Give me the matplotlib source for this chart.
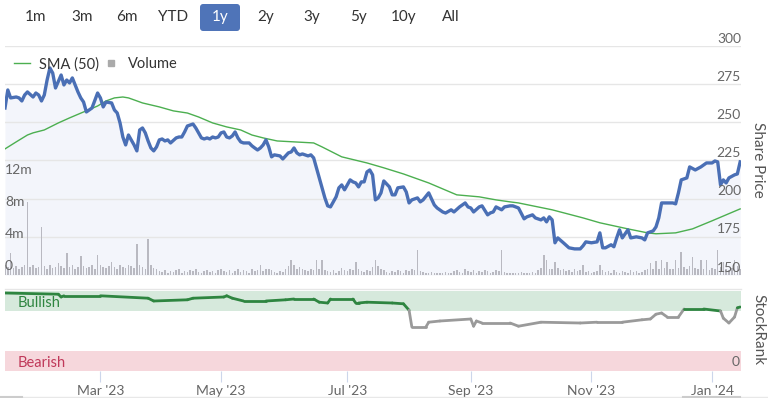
import pandas as pd
import matplotlib
matplotlib.use('Agg')
import matplotlib.pyplot as plt
from matplotlib.lines import Line2D
from matplotlib.patches import FancyBboxPatch

plt.rcParams['font.family'] = ['Lato', 'DejaVu Sans']

# trading sessions shown on the 1y view
sessions = pd.bdate_range('2023-01-12', periods=263)

# share price, read at session numbers
price_day = [0, 1, 2, 4, 5, 6, 7, 8, 10, 11, 12, 13, 14, 15, 16, 17, 18, 20, 21, 22,
             23, 24, 26, 27, 28, 29, 31, 33, 34, 35, 36, 38, 39, 40, 41, 42, 43, 44, 45, 46,
             47, 48, 49, 50, 51, 52, 53, 54, 55, 56, 57, 58, 59, 61, 62, 63, 64, 65, 67, 68,
             69, 70, 71, 72, 73, 74, 75, 76, 77, 78, 79, 80, 81, 82, 83, 84, 85, 87, 88, 89,
             90, 91, 92, 93, 94, 95, 96, 98, 99, 101, 102, 103, 104, 105, 106, 108, 109, 110, 111, 112,
             113, 114, 115, 116, 117, 118, 119, 120, 121, 122, 123, 124, 125, 126, 127, 128, 129, 130, 131, 132,
             133, 134, 135, 136, 137, 138, 139, 140, 142, 143, 144, 145, 147, 148, 149, 151, 152, 153, 154, 156,
             157, 159, 160, 162, 164, 165, 166, 167, 169, 170, 172, 173, 174, 175, 177, 178, 180, 181, 183, 185,
             186, 188, 189, 191, 192, 193, 194, 195, 196, 197, 199, 201, 203, 205, 206, 207, 209, 211, 212, 213,
             214, 216, 217, 218, 219, 220, 222, 223, 225, 227, 228, 229, 231, 232, 233, 234, 236, 238, 239, 240,
             241, 243, 244, 246, 248, 250, 252, 253, 254, 255, 256, 257, 258, 260, 261, 262]
price = [259.4, 271.2, 266.0, 266.6, 266.0, 264.0, 267.9, 269.9, 266.6, 269.2, 267.9, 264.0, 267.9, 277.7, 285.6, 282.3, 272.5, 281.0, 274.5, 277.7,
         275.8, 279.1, 269.9, 266.0, 263.3, 256.8, 259.4, 269.2, 266.0, 260.1, 263.3, 262.7, 258.1, 256.1, 249.6, 240.4, 235.2, 241.7, 238.5, 235.2,
         231.3, 245.0, 246.3, 243.1, 237.8, 233.2, 231.3, 233.9, 238.5, 239.1, 237.8, 238.5, 236.5, 239.8, 240.4, 240.4, 243.7, 247.6, 248.9, 246.3,
         243.1, 239.8, 239.1, 239.8, 239.1, 240.4, 239.8, 240.4, 243.1, 243.7, 240.4, 239.8, 241.1, 243.7, 239.8, 237.2, 236.5, 236.5, 234.6, 233.2,
         231.9, 233.2, 235.2, 238.5, 233.9, 227.4, 228.7, 228.0, 226.0, 230.0, 230.6, 233.2, 230.0, 228.7, 229.3, 228.0, 228.7, 226.7, 220.2, 213.6,
         207.1, 200.5, 195.3, 194.6, 197.9, 201.2, 207.1, 209.0, 205.8, 209.0, 212.3, 211.0, 210.3, 207.7, 211.0, 211.0, 217.5, 218.8, 215.6, 199.2,
         200.5, 203.8, 211.6, 209.7, 207.7, 202.5, 202.5, 207.1, 207.7, 204.4, 197.2, 199.2, 200.5, 197.9, 199.2, 203.8, 199.8, 195.9, 193.9, 191.3,
         190.6, 192.7, 191.3, 194.6, 197.2, 194.6, 193.9, 191.3, 194.6, 195.3, 189.4, 190.7, 191.3, 194.6, 192.7, 194.6, 195.3, 195.3, 193.9, 186.8,
         188.1, 189.4, 187.4, 186.1, 187.4, 184.8, 188.1, 186.1, 171.1, 174.3, 171.1, 167.8, 167.1, 167.1, 169.1, 171.7, 171.1, 171.7, 177.6, 167.8,
         167.8, 169.8, 168.5, 174.3, 179.6, 174.3, 179.6, 174.3, 175.0, 174.3, 173.0, 177.6, 178.9, 181.5, 187.4, 197.2, 197.2, 197.2, 196.6, 203.8,
         212.3, 213.6, 220.8, 218.8, 220.8, 223.4, 223.4, 224.7, 224.1, 209.0, 212.3, 210.3, 213.6, 215.6, 216.2, 224.1]

# 50 day moving average
sma_day = [0, 4, 8, 10, 14, 19, 23, 28, 33, 36, 39, 42, 44, 46, 49, 55, 60, 65, 69, 74,
           79, 84, 88, 92, 97, 103, 110, 113, 120, 129, 135, 142, 151, 161, 169, 175, 180, 183, 195, 206,
           212, 222, 229, 232, 239, 245, 252, 257, 262]
sma = [232.6, 237.2, 241.7, 243.1, 245.0, 249.6, 252.9, 256.8, 260.7, 264.0, 266.0, 266.6, 266.0, 264.7, 262.7, 260.1, 257.5, 256.1, 253.5, 249.6,
       247.0, 245.0, 241.7, 239.8, 237.8, 237.2, 236.5, 233.9, 227.4, 223.4, 220.2, 216.2, 210.3, 202.5, 201.2, 199.2, 197.9, 197.2, 192.7, 187.4,
       184.2, 180.2, 177.6, 177.0, 177.6, 180.2, 185.5, 189.4, 193.3]

# daily volume in millions, one value per session
volume = [1.2, 1.0, 2.7, 0.9, 1.1, 0.8, 1.0, 1.3, 9.1, 1.0,
          1.2, 0.9, 1.0, 6.0, 1.1, 0.8, 1.2, 0.9, 1.0, 1.5,
          1.1, 0.9, 2.7, 1.0, 1.2, 0.8, 1.0, 2.4, 1.1, 0.9,
          1.0, 1.3, 0.8, 2.5, 1.2, 1.0, 0.9, 1.1, 1.6, 1.0,
          0.8, 1.2, 1.0, 0.9, 1.3, 1.1, 0.9, 3.9, 1.2, 1.0,
          0.8, 4.5, 1.3, 0.9, 0.7, 0.5, 0.4, 0.6, 0.3, 0.5,
          0.4, 0.6, 0.8, 0.3, 0.5, 0.4, 0.6, 0.5, 0.7, 0.4,
          0.3, 0.5, 0.6, 0.4, 0.5, 0.3, 0.6, 0.7, 0.5, 0.4,
          0.6, 0.3, 0.5, 0.8, 0.4, 0.6, 0.5, 0.3, 0.7, 0.5,
          0.6, 1.2, 0.5, 0.8, 0.7, 0.6, 0.4, 0.3, 0.5, 0.4,
          0.7, 1.1, 1.9, 1.2, 0.8, 1.0, 0.7, 0.6, 0.5, 0.8,
          0.6, 1.9, 0.7, 1.9, 0.6, 0.5, 0.4, 0.6, 0.3, 0.5,
          0.9, 0.6, 0.5, 0.8, 0.6, 1.6, 0.7, 0.5, 0.4, 0.6,
          0.5, 1.0, 1.9, 1.1, 0.8, 0.6, 0.4, 0.3, 0.5, 0.4,
          0.6, 0.5, 0.3, 0.6, 0.5, 0.7, 0.6, 3.1, 0.5, 0.4,
          0.3, 0.2, 0.4, 0.3, 0.2, 0.3, 0.2, 0.4, 0.3, 0.2,
          0.5, 0.6, 0.4, 0.3, 0.7, 0.5, 0.4, 0.6, 0.3, 0.5,
          0.4, 0.6, 0.5, 0.3, 0.4, 0.6, 0.5, 3.1, 0.4, 0.3,
          0.2, 0.3, 0.2, 0.3, 0.4, 0.2, 0.3, 0.2, 0.4, 0.3,
          0.6, 0.9, 2.5, 1.9, 0.7, 0.8, 1.6, 0.9, 0.6, 0.8,
          0.5, 0.6, 0.4, 0.7, 0.5, 0.6, 1.2, 0.4, 0.5, 0.3,
          0.4, 0.5, 1.2, 0.6, 0.4, 0.5, 0.3, 0.6, 0.4, 0.3,
          0.5, 0.4, 0.3, 0.6, 0.4, 0.5, 0.3, 0.4, 0.6, 0.8,
          1.5, 0.7, 1.7, 0.8, 1.9, 0.9, 1.6, 0.8, 0.7, 1.9,
          0.9, 2.9, 1.0, 0.8, 1.1, 2.2, 0.9, 0.7, 1.9, 0.8,
          1.9, 0.6, 0.9, 0.7, 3.1, 1.0, 1.6, 0.8, 0.6, 0.9,
          1.9, 1.1, 0.8]

# StockRank (0-100)
rank_day = [0, 19, 20, 21, 34, 51, 53, 65, 67, 78, 79, 81, 85, 93, 100, 103, 110, 112, 115, 116,
            124, 125, 126, 129, 138, 142, 144, 145, 150, 151, 155, 166, 167, 168, 170, 180, 183, 191, 205, 211,
            220, 227, 230, 232, 234, 236, 240, 242, 249, 255, 256, 258, 260, 261, 262]
rank = [97.5, 96, 92.5, 94, 94, 91, 87.5, 89, 91, 92.5, 94, 91, 87.5, 87.5, 89, 90, 90, 86, 85, 90,
        90, 85, 85, 86, 85, 84, 76, 55, 55, 61, 62.5, 65, 56, 62.5, 60, 60, 56, 61, 60, 61,
        61, 64, 65, 71, 72.5, 67.5, 67.5, 77.5, 77.5, 75, 66, 60, 67.5, 79, 80]

buttons = ['1m', '3m', '6m', 'YTD', '1y', '2y', '3y', '5y', '10y', 'All']
month_ticks = ['2023-03-01', '2023-05-01', '2023-07-01', '2023-09-01', '2023-11-01', '2024-01-01']

W, H = 768, 398
GRID = '#e6e6e6'
LABEL = '#666666'


def fx(px):
    return px / W


def fy(py):
    return 1 - py / H


fig = plt.figure(figsize=(W / 100, H / 100), dpi=100)
xmax = len(sessions) - 0.7

# --- price panel: fill + grid, volume, lines on three stacked axes
rect = [fx(5), fy(275), fx(736), 229 / H]
ax = fig.add_axes(rect)
ax.set_xlim(0, xmax)
ax.set_ylim(150, 300)
ax.fill_between(price_day, price, 150, color='#f3f5fb', lw=0)
for v in range(150, 301, 25):
    ax.axhline(v, color=GRID, lw=1)
ax.axis('off')

axv = fig.add_axes(rect, sharex=ax)
axv.patch.set_visible(False)
axv.set_ylim(0, 229 / 8)
axv.bar(range(len(volume)), volume, width=0.55, color='#b9b9c1', lw=0)
for v in [0, 4, 8, 12]:
    axv.annotate(f'{v}m' if v else '0', (0, v), xytext=(0, 2), textcoords='offset points',
                 ha='left', va='bottom', color=LABEL, fontsize=10)
axv.axis('off')

axp = fig.add_axes(rect, sharex=ax, sharey=ax)
axp.patch.set_visible(False)
axp.plot(sma_day, sma, color='#4caf50', lw=1)
axp.plot(price_day, price, color='#4a6fb5', lw=2.4, solid_joinstyle='round')
for v in range(150, 301, 25):
    axp.annotate(str(v), (xmax, v), xytext=(0, 1), textcoords='offset points',
                 ha='right', va='bottom', color=LABEL, fontsize=10)
axp.axis('off')

leg = axp.legend(handles=[Line2D([], [], color='#4caf50', lw=1),
                          Line2D([], [], ls='', marker='s', markersize=5, color='#aaaaaa')],
                 labels=['SMA (50)', 'Volume'], loc='upper left', ncol=2, frameon=False,
                 bbox_to_anchor=(fx(1), fy(44)), bbox_transform=fig.transFigure,
                 handlelength=1.1, handletextpad=0.6, columnspacing=0.3, fontsize=10.5)
for t in leg.get_texts():
    t.set_color('#333333')

# --- StockRank panel
axr = fig.add_axes([fx(5), fy(371), fx(736), 80 / H], sharex=ax)
axr.set_ylim(0, 100)
axr.axhspan(75, 100, color='#d6e9dc', lw=0)
axr.axhspan(0, 25, color='#f6d7dc', lw=0)
axr.axhline(102, color=GRID, lw=1, clip_on=False)
for i in range(len(rank) - 1):
    c = '#2e8540' if min(rank[i], rank[i + 1]) >= 74 else '#9a9a9a'
    axr.plot(rank_day[i:i + 2], rank[i:i + 2], color=c, lw=2, solid_capstyle='round')
axr.text(fx(13) * W / 736, 0.85, 'Bullish', transform=axr.transAxes, color='#2e8540',
         fontsize=10.5, va='center')
axr.text(fx(13) * W / 736, 0.1, 'Bearish', transform=axr.transAxes, color='#c0395a',
         fontsize=10.5, va='center')
axr.annotate('0', (xmax, 0), xytext=(-1, 2), textcoords='offset points',
             ha='right', va='bottom', color=LABEL, fontsize=10)

tick_pos = [sessions.searchsorted(pd.Timestamp(m)) for m in month_ticks]
axr.set_xticks(tick_pos)
axr.set_xticklabels([pd.Timestamp(m).strftime("%b '%y") for m in month_ticks])
axr.set_yticks([])
axr.tick_params(axis='x', length=8, color='#ccd6eb', labelcolor=LABEL, labelsize=10, pad=2)
for s in axr.spines.values():
    s.set_visible(False)

# axis titles on the right
fig.text(fx(758), fy(160), 'Share Price', rotation=270, ha='center', va='center',
         color='#555555', fontsize=11)
fig.text(fx(758), fy(330), 'StockRank', rotation=270, ha='center', va='center',
         color='#555555', fontsize=11)

# --- range selector buttons
button_x = [36, 82, 127, 173, 220, 266, 312, 358, 404, 451]
for b, x in zip(buttons, button_x):
    if b == '1y':
        fig.add_artist(FancyBboxPatch((fx(200), fy(31)), fx(40), 27 / H,
                                      boxstyle='round,pad=0,rounding_size=0.004',
                                      mutation_aspect=W / H, transform=fig.transFigure,
                                      color='#4f74b8', lw=0))
        fig.text(fx(x), fy(17), b, ha='center', va='center', color='white', fontsize=11)
    else:
        fig.text(fx(x), fy(17), b, ha='center', va='center', color='#333333', fontsize=11)

# scrollbar strip at the very bottom
fig.add_artist(Line2D([0, 1], [fy(396.5), fy(396.5)], color='#e8e8e8', lw=1))
fig.add_artist(Line2D([0, fx(22)], [fy(396.5), fy(396.5)], color='#cccccc', lw=1.5))
fig.add_artist(Line2D([fx(683), fx(740)], [fy(396.5), fy(396.5)], color='#cccccc', lw=1.5))

fig.savefig('out.png', dpi=100)
